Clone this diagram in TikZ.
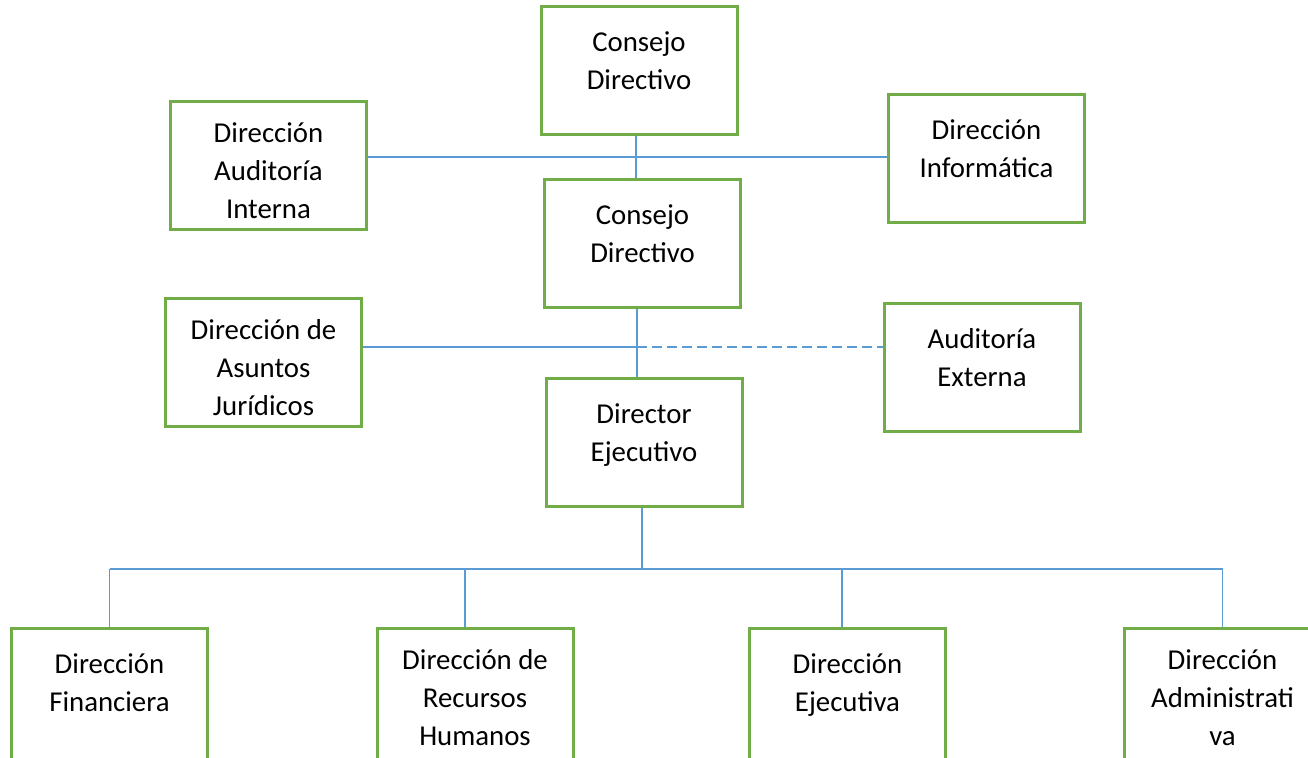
\documentclass[tikz,border=0pt]{standalone}
\usepackage{fontspec}
\setmainfont{Carlito}
\usetikzlibrary{positioning}
\definecolor{boxgreen}{HTML}{70AD47}
\definecolor{lineblue}{HTML}{5B9BD5}
\begin{document}
\begin{tikzpicture}[x=0.5pt,y=-0.5pt,
            unit/.style={draw=boxgreen,line width=1.5pt,inner sep=0pt,minimum width=98pt,text width=90pt,align=flush center,text height=22.5pt,text depth=41.5pt,font=\fontsize{14.4pt}{18.9pt}\selectfont},
            unit3/.style={unit,text height=20.5pt,text depth=43.5pt},
            low/.style={text depth=45pt},
            low3/.style={unit3,text depth=47pt},
            link/.style={draw=lineblue,line width=0.75pt},
            dashlink/.style={link,dash pattern=on 5pt off 2.5pt}
          ]
          \useasboundingbox (0,0) rectangle (1308,758);

          %upper levels
          \node[unit] (cd1) at (639,71) {Consejo\\Directivo};
          \node[unit3] (dai) at (268.5,166) {Dirección\\Auditoría\\Interna};
          \node[unit] (dinf) at (986.5,159) {Dirección\\Informática};
          \node[unit] (cd2) at (642.5,243.5) {Consejo\\Directivo};
          \node[unit3] (daj) at (263.5,362.5) {Dirección de\\Asuntos\\Jurídicos};
          \node[unit] (dae) at (982,368) {Auditoría\\Externa};
          \node[unit] (dej) at (644,442.5) {Director\\Ejecutivo};

          %direcciones
          \node[unit,low] (dfin) at (109.5,696.5) {Dirección\\Financiera};
          \node[low3] (drh) at (475,696.5) {Dirección de\\Recursos\\Humanos};
          \node[unit,low] (dejv) at (847.5,696.5) {Dirección\\Ejecutiva};
          \node[low3] (dadm) at (1222.5,696.5) {Dirección\\Administrati\\va};

          %junctions
          \coordinate (top) at (636,157);
          \coordinate (mid) at (637,347);
          \coordinate (bus) at (642,569);

          %lines
          \path[link] (cd1.south -| top) -- (cd2.north -| top);
          \path[link] (dai.east |- top) -- (dinf.west |- top);
          \path[link] (cd2.south -| mid) -- (dej.north -| mid);
          \path[link] (daj.east |- mid) -- (mid);
          \path[dashlink] (mid) -- (dae.west |- mid);
          \path[link] (dej.south -| bus) -- (bus);
          \path[link] (dfin.north |- bus) -- (dadm.north |- bus);
          \foreach \n/\dx in {dfin/0,drh/-5,dejv/-2.75,dadm/0}
            \path[link] ([xshift=\dx pt]\n.north |- bus) -- ([xshift=\dx pt]\n.north);

      \end{tikzpicture}
\end{document}
